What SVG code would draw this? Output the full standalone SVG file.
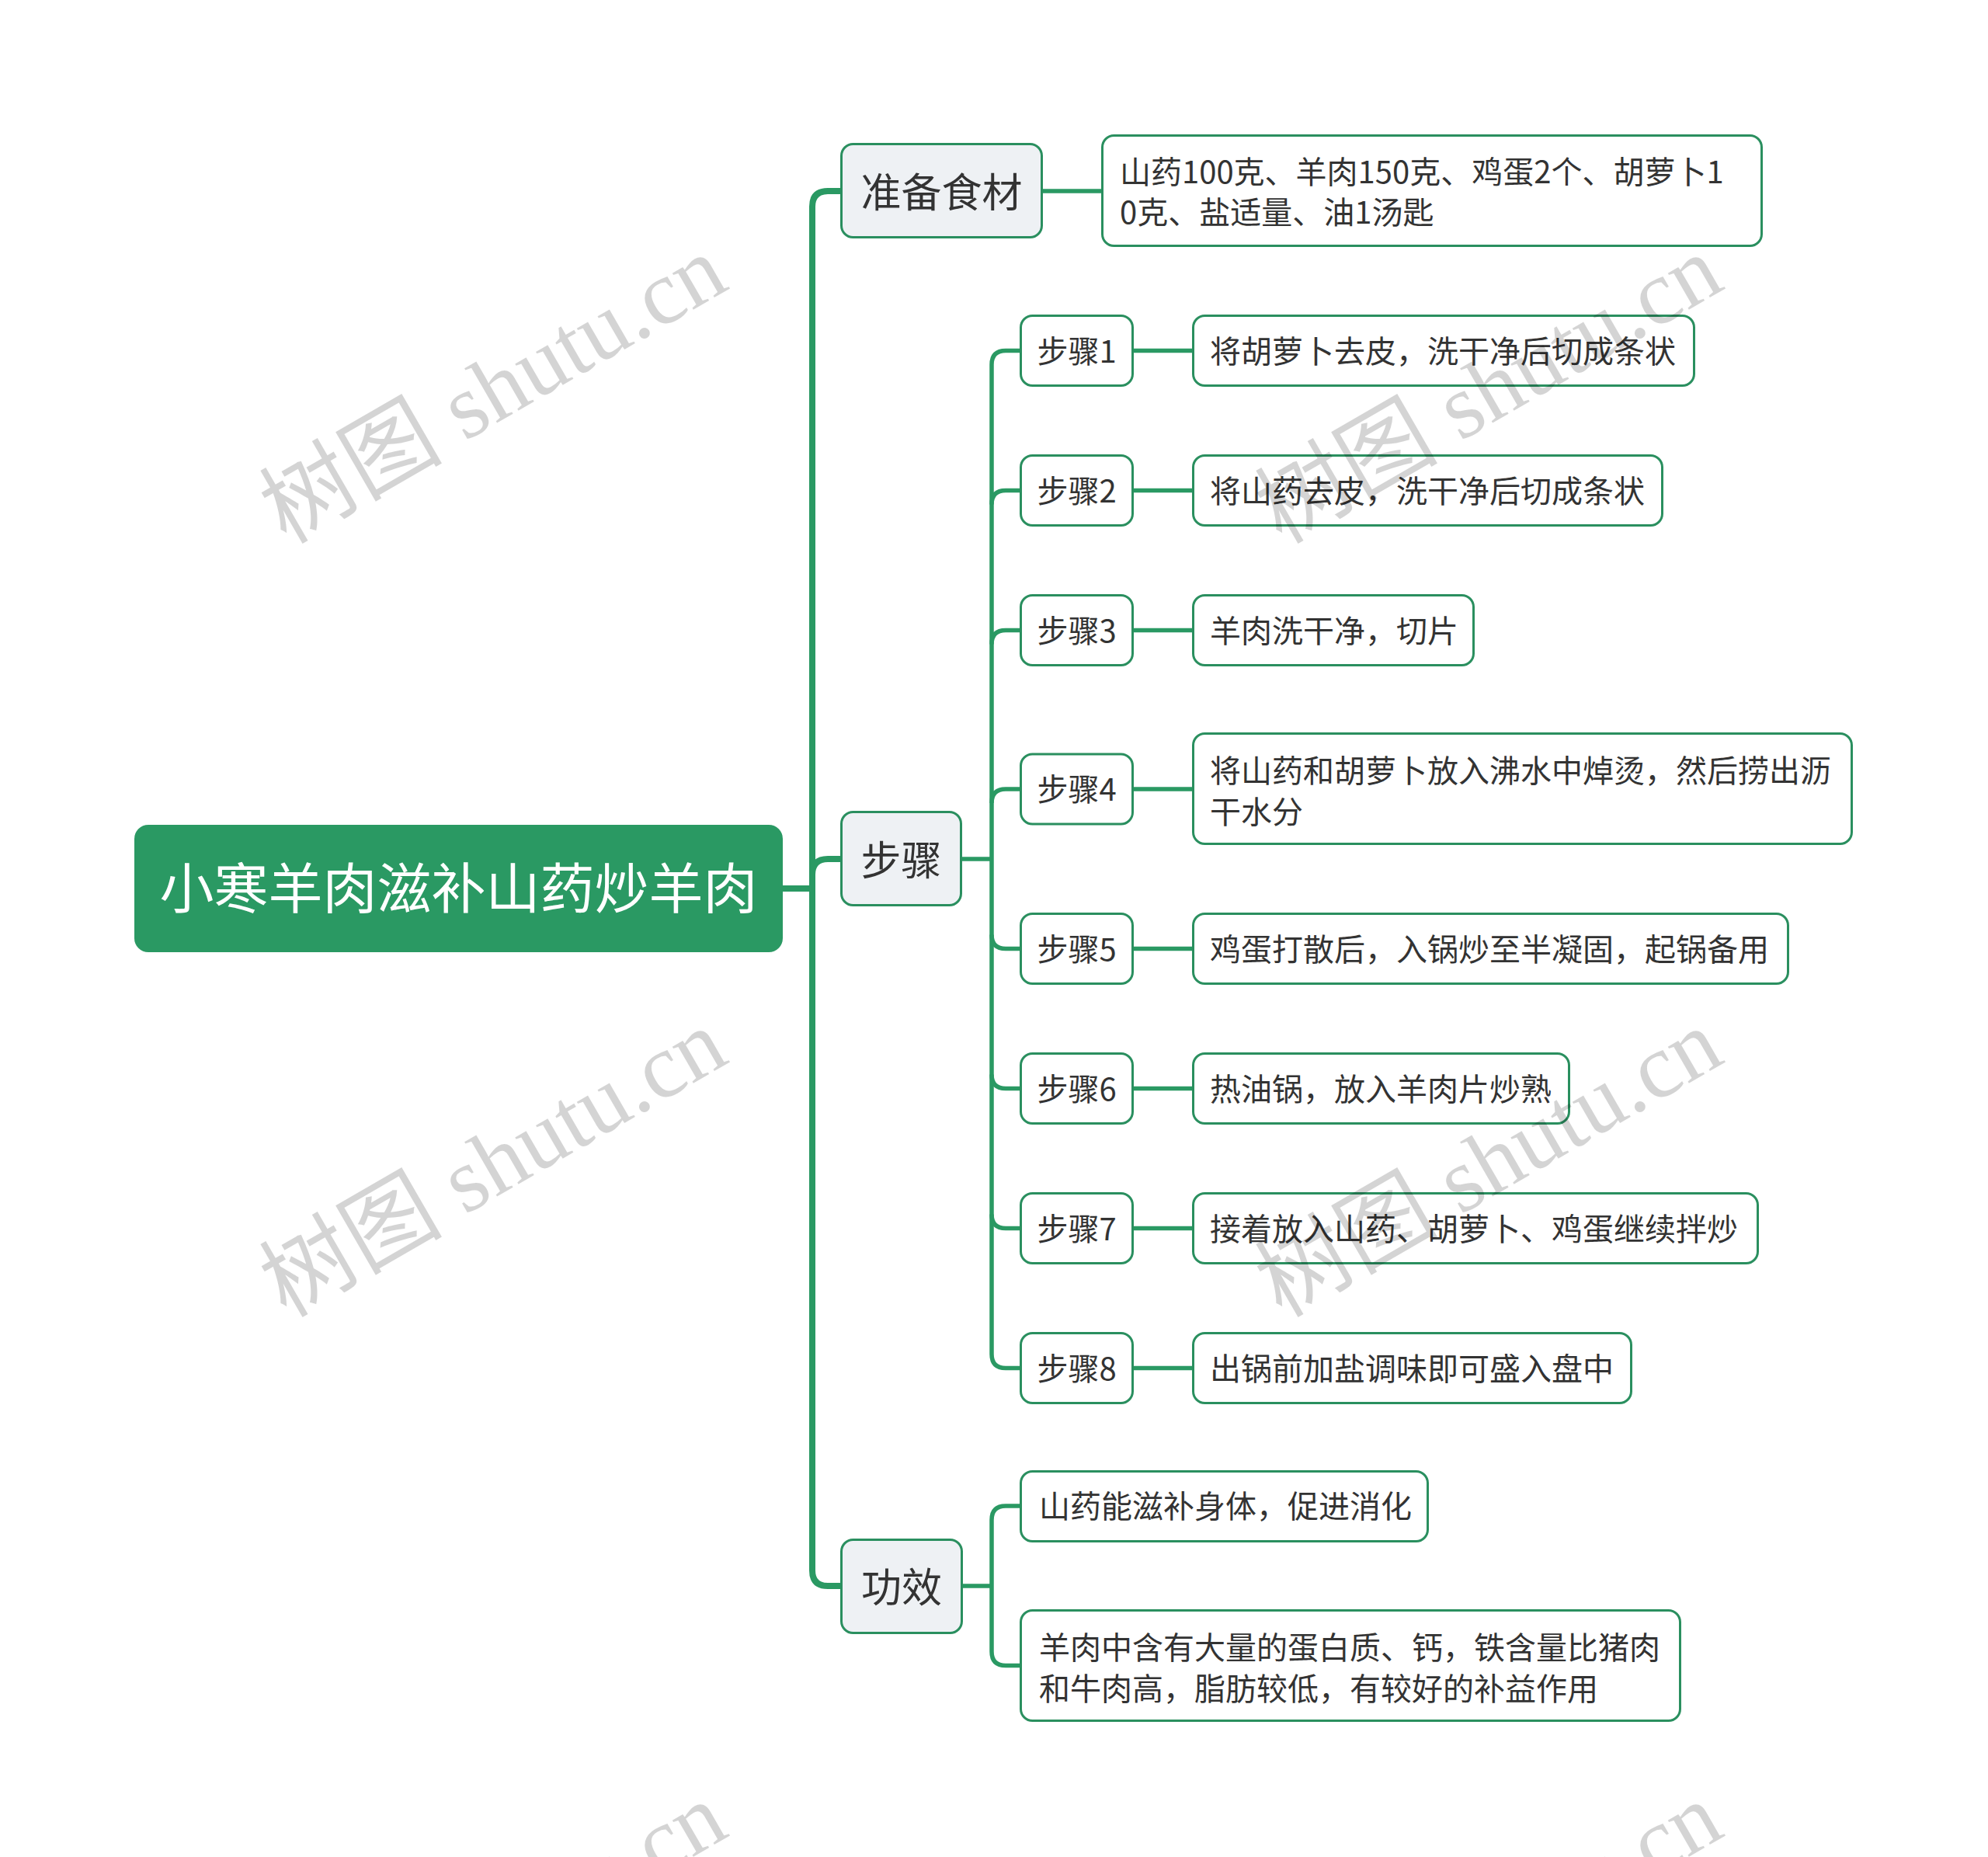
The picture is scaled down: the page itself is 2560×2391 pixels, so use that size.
<svg xmlns="http://www.w3.org/2000/svg" width="2560" height="2391" viewBox="0 0 2560 2391">
<style>
.bg{fill:#ffffff}
.root rect{fill:#2a9963}
.root text{fill:#ffffff;font-size:70px}
.l1 rect{fill:#eef1f4;stroke:#2a8f5f;stroke-width:3}
.l1 text{font-size:52px}
.box rect{fill:#ffffff;stroke:#2a8f5f;stroke-width:3}
text{font-family:"Noto Sans CJK SC","Noto Sans",sans-serif;fill:#333333;font-size:40px}
.mid{text-anchor:middle}
.c1{fill:none;stroke:#2a9963;stroke-width:8;stroke-linecap:butt}
.c2{fill:none;stroke:#2a9963;stroke-width:5.5;stroke-linecap:butt}
.wm{font-family:"Liberation Serif","Noto Sans CJK SC",serif;font-size:118px;fill:#000000;fill-opacity:0.17;text-anchor:middle}
</style>
<rect class="bg" x="0" y="0" width="2560" height="2391"/>
<g id="connectors">
<path class="c1" d="M1008 1144 H1046"/>
<path class="c1" d="M1083 246 H1066 Q1046 246 1046 266 V2022 Q1046 2042 1066 2042 H1083"/>
<path class="c1" d="M1046 1126 Q1046 1106 1066 1106 H1083"/>
<path class="c2" d="M1342 246 H1419"/>
<path class="c2" d="M1239 1106 H1277"/>
<path class="c2" d="M1314 451.5 H1295 Q1277 451.5 1277 469.5 V1743.5 Q1277 1761.5 1295 1761.5 H1314"/>
<path class="c2" d="M1277 649.5 Q1277 631.5 1295 631.5 H1314"/>
<path class="c2" d="M1277 829.5 Q1277 811.5 1295 811.5 H1314"/>
<path class="c2" d="M1277 1034 Q1277 1016 1295 1016 H1314"/>
<path class="c2" d="M1277 1203.5 Q1277 1221.5 1295 1221.5 H1314"/>
<path class="c2" d="M1277 1383.5 Q1277 1401.5 1295 1401.5 H1314"/>
<path class="c2" d="M1277 1563.5 Q1277 1581.5 1295 1581.5 H1314"/>
<path class="c2" d="M1459 451.5 H1536"/>
<path class="c2" d="M1459 631.5 H1536"/>
<path class="c2" d="M1459 811.5 H1536"/>
<path class="c2" d="M1459 1016 H1536"/>
<path class="c2" d="M1459 1221.5 H1536"/>
<path class="c2" d="M1459 1401.5 H1536"/>
<path class="c2" d="M1459 1581.5 H1536"/>
<path class="c2" d="M1459 1761.5 H1536"/>
<path class="c2" d="M1239 2042 H1277"/>
<path class="c2" d="M1314 1939 H1295 Q1277 1939 1277 1957 V2126.5 Q1277 2144.5 1295 2144.5 H1314"/>
</g>
<g id="root" class="root">
<rect x="173" y="1062" width="835" height="164" rx="18"/>
<text class="mid" x="590.5" y="1170">小寒羊肉滋补山药炒羊肉</text>
</g>
<g id="n-prep" class="l1">
<rect x="1083.5" y="185.5" width="258" height="120" rx="15"/>
<text class="mid" x="1212.5" y="266.5">准备食材</text>
</g>
<g id="n-prep-detail" class="box">
<rect x="1419.5" y="174.5" width="849" height="142" rx="15"/>
<text x="1442" y="236">山药100克、羊肉150克、鸡蛋2个、胡萝卜1</text>
<text x="1442" y="288">0克、盐适量、油1汤匙</text>
</g>
<g id="n-steps" class="l1">
<rect x="1083.5" y="1045.5" width="154" height="120" rx="15"/>
<text class="mid" x="1160.5" y="1126.5">步骤</text>
</g>
<g id="n-effect" class="l1">
<rect x="1083.5" y="1982.5" width="155" height="120" rx="15"/>
<text class="mid" x="1161" y="2063">功效</text>
</g>
<g id="n-step1" class="box">
<rect x="1314.5" y="406.5" width="144" height="90" rx="15"/>
<text class="mid" x="1386.5" y="466.5">步骤1</text>
</g>
<g id="n-step1-d" class="box">
<rect x="1536.5" y="406.5" width="645" height="90" rx="15"/>
<text x="1558" y="466.5">将胡萝卜去皮，洗干净后切成条状</text>
</g>
<g id="n-step2" class="box">
<rect x="1314.5" y="586.5" width="144" height="90" rx="15"/>
<text class="mid" x="1386.5" y="646.5">步骤2</text>
</g>
<g id="n-step2-d" class="box">
<rect x="1536.5" y="586.5" width="604" height="90" rx="15"/>
<text x="1558" y="646.5">将山药去皮，洗干净后切成条状</text>
</g>
<g id="n-step3" class="box">
<rect x="1314.5" y="766.5" width="144" height="90" rx="15"/>
<text class="mid" x="1386.5" y="826.5">步骤3</text>
</g>
<g id="n-step3-d" class="box">
<rect x="1536.5" y="766.5" width="361" height="90" rx="15"/>
<text x="1558" y="826.5">羊肉洗干净，切片</text>
</g>
<g id="n-step4" class="box">
<rect x="1314.5" y="971" width="144" height="90" rx="15"/>
<text class="mid" x="1386.5" y="1031">步骤4</text>
</g>
<g id="n-step4-d" class="box">
<rect x="1536.5" y="944.5" width="848" height="142" rx="15"/>
<text x="1558" y="1007">将山药和胡萝卜放入沸水中焯烫，然后捞出沥</text>
<text x="1558" y="1059.5">干水分</text>
</g>
<g id="n-step5" class="box">
<rect x="1314.5" y="1176.5" width="144" height="90" rx="15"/>
<text class="mid" x="1386.5" y="1236.5">步骤5</text>
</g>
<g id="n-step5-d" class="box">
<rect x="1536.5" y="1176.5" width="766" height="90" rx="15"/>
<text x="1558" y="1236.5">鸡蛋打散后，入锅炒至半凝固，起锅备用</text>
</g>
<g id="n-step6" class="box">
<rect x="1314.5" y="1356.5" width="144" height="90" rx="15"/>
<text class="mid" x="1386.5" y="1416.5">步骤6</text>
</g>
<g id="n-step6-d" class="box">
<rect x="1536.5" y="1356.5" width="484" height="90" rx="15"/>
<text x="1558" y="1416.5">热油锅，放入羊肉片炒熟</text>
</g>
<g id="n-step7" class="box">
<rect x="1314.5" y="1536.5" width="144" height="90" rx="15"/>
<text class="mid" x="1386.5" y="1596.5">步骤7</text>
</g>
<g id="n-step7-d" class="box">
<rect x="1536.5" y="1536.5" width="727" height="90" rx="15"/>
<text x="1558" y="1596.5">接着放入山药、胡萝卜、鸡蛋继续拌炒</text>
</g>
<g id="n-step8" class="box">
<rect x="1314.5" y="1716.5" width="144" height="90" rx="15"/>
<text class="mid" x="1386.5" y="1776.5">步骤8</text>
</g>
<g id="n-step8-d" class="box">
<rect x="1536.5" y="1716.5" width="564" height="90" rx="15"/>
<text x="1558" y="1776.5">出锅前加盐调味即可盛入盘中</text>
</g>
<g id="n-effect1" class="box">
<rect x="1314.5" y="1894.5" width="524" height="90" rx="15"/>
<text x="1338" y="1954">山药能滋补身体，促进消化</text>
</g>
<g id="n-effect2" class="box">
<rect x="1314.5" y="2073.5" width="849" height="142" rx="15"/>
<text x="1338" y="2136">羊肉中含有大量的蛋白质、钙，铁含量比猪肉</text>
<text x="1338" y="2189">和牛肉高，脂肪较低，有较好的补益作用</text>
</g>
<g id="watermarks">
<text class="wm" x="655" y="536" transform="rotate(-30 655 536)">树图 shutu.cn</text>
<text class="wm" x="1937" y="536" transform="rotate(-30 1937 536)">树图 shutu.cn</text>
<text class="wm" x="655" y="1532" transform="rotate(-30 655 1532)">树图 shutu.cn</text>
<text class="wm" x="1937" y="1532" transform="rotate(-30 1937 1532)">树图 shutu.cn</text>
<text class="wm" x="655" y="2528" transform="rotate(-30 655 2528)">树图 shutu.cn</text>
<text class="wm" x="1937" y="2528" transform="rotate(-30 1937 2528)">树图 shutu.cn</text>
</g>
</svg>
